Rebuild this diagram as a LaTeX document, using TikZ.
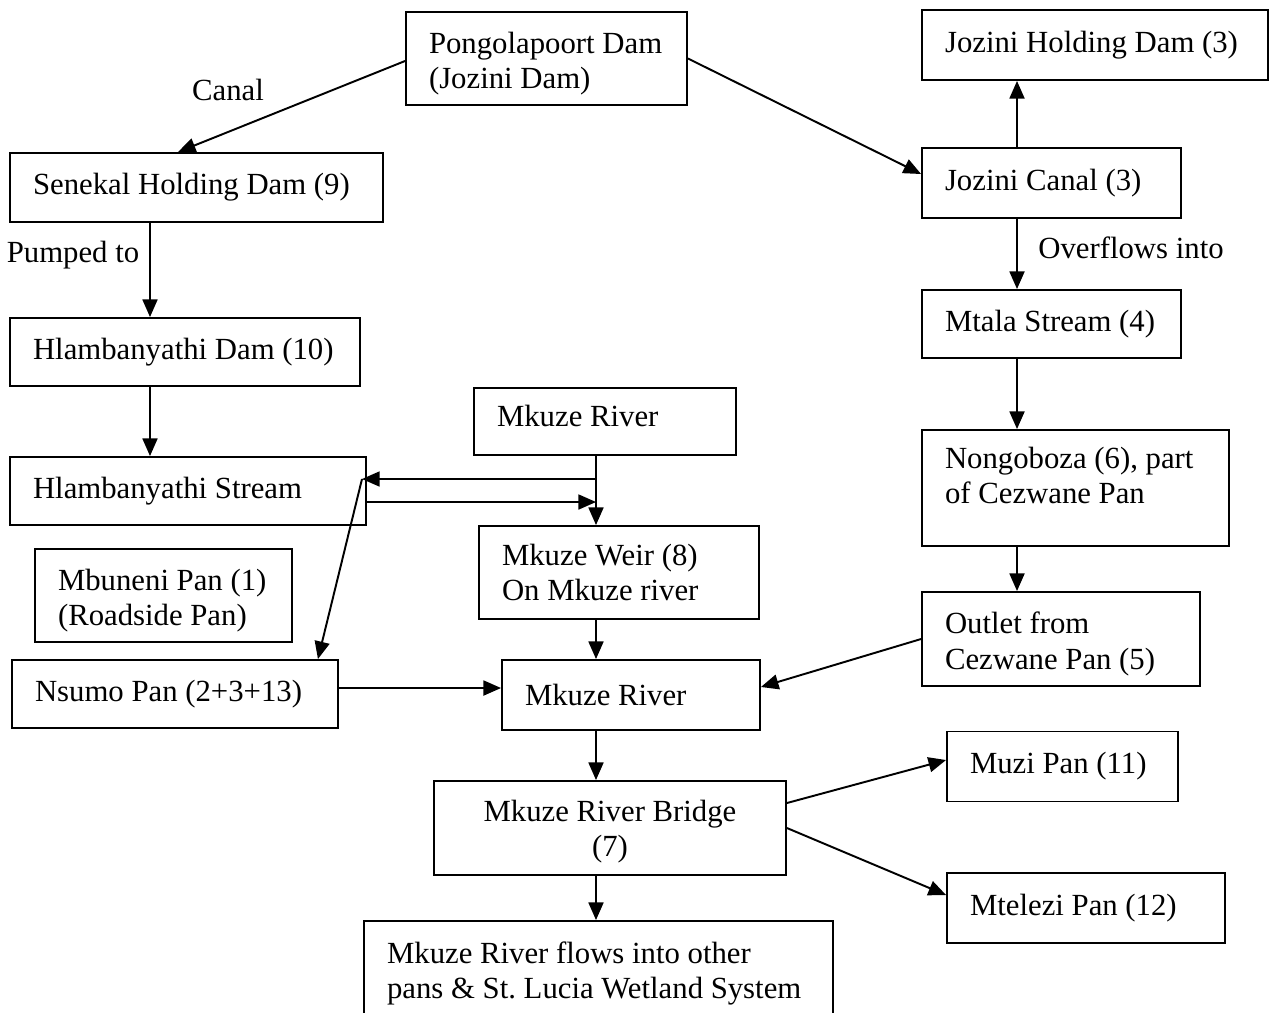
\documentclass[tikz,border=0pt]{standalone}
\usepackage{fontspec}
\setmainfont{Liberation Serif}
\usetikzlibrary{arrows.meta,calc}
\begin{document}
\begin{tikzpicture}[x=0.02cm,y=-0.02cm,
  box/.style={draw, line width=1.1pt, inner xsep=0.46cm, inner ysep=0pt, align=flush left, font=\fontsize{17.5}{20.2}\selectfont},
  lbl/.style={font=\fontsize{17.5}{20.2}\selectfont, inner sep=0pt},
  arr/.style={line width=1.1pt, -{Triangle[length=10pt,width=8.5pt]}}]
\useasboundingbox (0,0) rectangle (1270,1012);

% boxes
\node[box, text width=4.70cm, minimum height=1.86cm] (pong) at (546.5,58.5) {\rule{0pt}{18pt}Pongolapoort~Dam\\(Jozini~Dam)};
\node[box, text width=6.00cm, minimum height=1.40cm] (jhd) at (1095,45) {Jozini~Holding~Dam~(3)};
\node[box, text width=6.54cm, minimum height=1.38cm] (sen) at (196.5,187.5) {Senekal~Holding~Dam~(9)};
\node[box, text width=4.26cm, minimum height=1.40cm] (jc) at (1051.5,183) {Jozini~Canal~(3)};
\node[box, text width=6.08cm, minimum height=1.36cm] (hdam) at (185,352) {Hlambanyathi~Dam~(10)};
\node[box, text width=4.26cm, minimum height=1.36cm] (mtala) at (1051.5,324) {Mtala~Stream~(4)};
\node[box, text width=4.32cm, minimum height=1.34cm] (mkt) at (605,421.5) {Mkuze~River\\[-14pt]\mbox{}};
\node[box, text width=5.22cm, minimum height=2.32cm] (nong) at (1075.5,488) {Nongoboza~(6),~part\\of~Cezwane~Pan\\[-6pt]\mbox{}};
\node[box, text width=6.20cm, minimum height=1.36cm] (hstr) at (188,491) {Hlambanyathi~Stream};
\node[box, text width=4.68cm, minimum height=1.86cm] (weir) at (619,572.5) {Mkuze~Weir~(8)\\On~Mkuze~river};
\node[box, text width=4.22cm, minimum height=1.86cm] (mbu) at (163.5,595.5) {\rule{0pt}{18pt}Mbuneni~Pan~(1)\\(Roadside~Pan)};
\node[box, text width=4.64cm, minimum height=1.88cm] (outl) at (1061,639) {\rule{0pt}{18pt}Outlet~from\\Cezwane~Pan~(5)};
\node[box, text width=5.60cm, minimum height=1.36cm] (nsumo) at (175,694) {Nsumo~Pan~(2+3+13)};
\node[box, text width=4.24cm, minimum height=1.40cm] (mkm) at (631,695) {Mkuze~River};
\node[box, text width=3.70cm, minimum height=1.40cm] (muzi) at (1062.5,766.5) {Muzi~Pan~(11)};
\node[box, text width=6.12cm, minimum height=1.88cm, align=flush center] (bridge) at (610,828) {\rule{0pt}{16pt}Mkuze~River~Bridge\\(7)};
\node[box, text width=4.64cm, minimum height=1.40cm] (mtel) at (1086,908) {Mtelezi~Pan~(12)};
\node[box, text width=8.46cm, minimum height=2.10cm] (bot) at (598.5,973.5) {Mkuze~River~flows~into~other\\pans~\&~St.~Lucia~Wetland~System};

% labels
\node[lbl] (canal) at (228,90) {Canal};
\node[lbl] (pumped) at (73,255) {Pumped to};
\node[lbl] (over) at (1131,248) {Overflows into};

% helper coordinates
\coordinate (lc) at (150,0);
\coordinate (rc) at (1017,0);
\coordinate (j1) at (596,479);
\coordinate (j2) at (362,479);
\coordinate (j3) at (596,502);

% connectors
\draw[arr] ([yshift=-0.05cm]pong.west) -- ([xshift=-0.37cm]sen.north);
\draw[arr] (pong.east) -- ([yshift=0.18cm]jc.west);
\draw[arr] (jc.north -| rc) -- (jhd.south -| rc);
\draw[arr] (jc.south -| rc) -- (mtala.north -| rc);
\draw[arr] (mtala.south -| rc) -- (nong.north -| rc);
\draw[arr] (nong.south -| rc) -- (outl.north -| rc);
\draw[arr] (sen.south -| lc) -- (hdam.north -| lc);
\draw[arr] (hdam.south -| lc) -- (hstr.north -| lc);
\draw[arr] (mkt.south -| j1) -- (weir.north -| j1);
\draw[arr] (j1) -- (j2);
\draw[arr] (j2) -- ([xshift=-0.42cm]nsumo.north east);
\draw[arr] ([yshift=-0.22cm]hstr.east) -- (j3);
\draw[arr] (weir.south -| j1) -- (mkm.north -| j1);
\draw[arr] ([yshift=0.12cm]nsumo.east) -- ([yshift=0.14cm]mkm.west);
\draw[arr] (outl.west) -- ([yshift=0.16cm]mkm.east);
\draw[arr] (mkm.south -| j1) -- (bridge.north -| j1);
\draw[arr] ([yshift=0.5cm]bridge.east) -- ([yshift=0.13cm]muzi.west);
\draw[arr] (bridge.east) -- ([yshift=0.26cm]mtel.west);
\draw[arr] (bridge.south -| j1) -- (bot.north -| j1);
\end{tikzpicture}
\end{document}
